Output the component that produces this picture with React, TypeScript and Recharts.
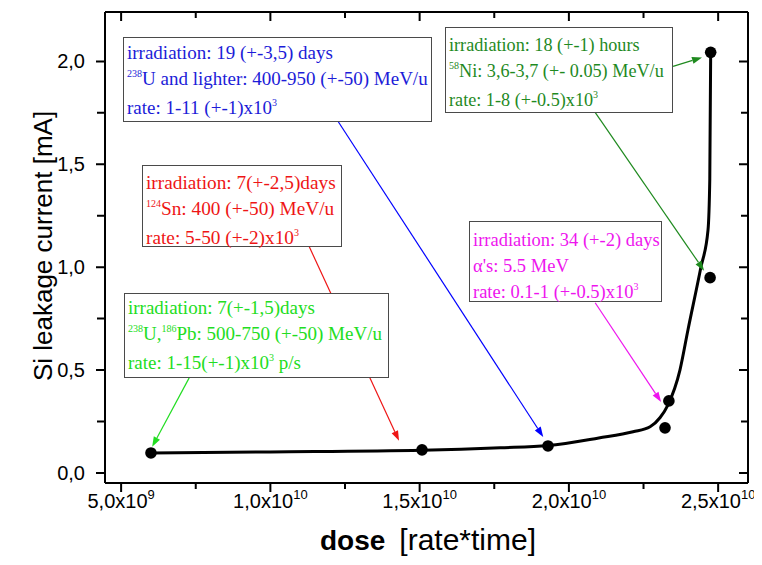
import React from "react";
import { ComposedChart, Line, Scatter, XAxis, YAxis, ReferenceLine } from "recharts";

// measured points
const measuredDose = [6.0e9, 1.508e10, 1.93e10, 2.322e10, 2.335e10, 2.473e10, 2.475e10];
const measuredCurrent = [0.097, 0.112, 0.131, 0.219, 0.35, 0.949, 2.044];

// fitted curve
const fitDose = [
  6.0e9, 1.0e10, 1.508e10, 1.77e10, 1.93e10, 2.1e10, 2.215e10, 2.272e10, 2.305e10,
  2.332e10, 2.372e10, 2.399e10, 2.442e10, 2.466e10, 2.472e10, 2.475e10,
];
const fitCurrent = [
  0.097, 0.102, 0.11, 0.122, 0.133, 0.17, 0.2, 0.224, 0.268, 0.331, 0.5, 0.696, 0.998,
  1.18, 1.43, 2.044,
];

const xMajorTicks = [5e9, 1e10, 1.5e10, 2e10, 2.5e10];
const xMinorTicks = [7.5e9, 1.25e10, 1.75e10, 2.25e10];
const xTickMantissa = ["5,0", "1,0", "1,5", "2,0", "2,5"];
const xTickExponent = ["9", "10", "10", "10", "10"];
const yMajorTicks = [0, 0.5, 1, 1.5, 2];
const yMinorTicks = [0.25, 0.75, 1.25, 1.75];
const yTickLabels = ["0,0", "0,5", "1,0", "1,5", "2,0"];

const BLUE = "#1c1cd8";
const DARK_GREEN = "#1f8a1f";
const RED = "#ee1515";
const LIGHT_GREEN = "#22dd22";
const MAGENTA = "#ee15ee";

// arrow start (box edge) and tip (data point), in data units
const arrowFrom = [
  [7.28e9, 0.462],
  [1.13e10, 1.1],
  [1.227e10, 1.708],
  [2.088e10, 0.827],
  [2.088e10, 1.752],
  [2.349e10, 1.976],
];
const arrowTo = [
  [6.04e9, 0.127],
  [1.431e10, 0.156],
  [1.914e10, 0.175],
  [2.309e10, 0.345],
  [2.453e10, 0.983],
  [2.446e10, 2.019],
];
const arrowColor = [LIGHT_GREEN, RED, "#0000ff", MAGENTA, DARK_GREEN, DARK_GREEN];

const measured = measuredDose.map((x, i) => ({ x, y: measuredCurrent[i] }));
const fit = fitDose.map((x, i) => ({ x, y: fitCurrent[i] }));

const X_DOMAIN: [number, number] = [4.46e9, 2.6e10];
const Y_DOMAIN: [number, number] = [-0.049, 2.24];

const W = 754;
const H = 549;
const M = { top: 3, right: 13, left: 0, bottom: 0 };
const Y_AXIS_W = 97;
const X_AXIS_H = 74;
// plot frame in svg pixels (same box recharts lays out from the sizes above)
const plot = {
  left: M.left + Y_AXIS_W,
  right: W - M.right - 1,
  top: M.top + 1,
  bottom: H - M.bottom - X_AXIS_H,
};
const px = (v: number) =>
  plot.left + ((v - X_DOMAIN[0]) / (X_DOMAIN[1] - X_DOMAIN[0])) * (plot.right - plot.left);
const py = (v: number) =>
  plot.bottom - ((v - Y_DOMAIN[0]) / (Y_DOMAIN[1] - Y_DOMAIN[0])) * (plot.bottom - plot.top);

const SANS = "'Liberation Sans', Arial, sans-serif";
const SERIF = "'Liberation Serif', 'Times New Roman', serif";
const FRAME = { stroke: "#000", strokeWidth: 2 };

function BottomLabel(props: any) {
  const { x, y, payload } = props;
  const i = xMajorTicks.indexOf(payload.value);
  if (i < 0) return null;
  return (
    <text x={x} y={y + 25} textAnchor="middle" fontSize={20} fontFamily={SANS} fill="#000">
      <tspan>{xTickMantissa[i]}x10</tspan>
      <tspan dy={-9} fontSize={13}>
        {xTickExponent[i]}
      </tspan>
    </text>
  );
}

function LeftLabel(props: any) {
  const { x, y, payload } = props;
  const i = yMajorTicks.indexOf(payload.value);
  if (i < 0) return null;
  return (
    <text x={x - 20} y={y + 7} textAnchor="end" fontSize={20} fontFamily={SANS} fill="#000">
      {yTickLabels[i]}
    </text>
  );
}

function arrowShape(color: string) {
  return (p: any) => {
    const { x1, y1, x2, y2 } = p;
    const a = Math.atan2(y2 - y1, x2 - x1);
    const L = 10;
    const hw = 3.5;
    const bx = x2 - L * Math.cos(a);
    const by = y2 - L * Math.sin(a);
    const pts = `${x2},${y2} ${bx + hw * Math.sin(a)},${by - hw * Math.cos(a)} ${bx - hw * Math.sin(a)},${by + hw * Math.cos(a)}`;
    return (
      <g>
        <line x1={x1} y1={y1} x2={bx} y2={by} stroke={color} strokeWidth={1.2} />
        <polygon points={pts} fill={color} />
      </g>
    );
  };
}

function Dot(p: any) {
  return <circle cx={p.cx} cy={p.cy} r={5.8} fill="#000" />;
}

// Origin-style frame ticks: outward on bottom/left, inward on top/right
function FrameTicks() {
  const segs: string[] = [];
  [...xMajorTicks, ...xMinorTicks].forEach((v) => {
    const major = xMajorTicks.includes(v);
    const x = px(v);
    segs.push(`M${x},${plot.bottom}L${x},${plot.bottom + (major ? 9 : 6)}`);
    segs.push(`M${x},${plot.top}L${x},${plot.top + (major ? 9 : 6)}`);
  });
  [...yMajorTicks, ...yMinorTicks].forEach((v) => {
    const major = yMajorTicks.includes(v);
    const y = py(v);
    segs.push(`M${plot.left},${y}L${plot.left - (major ? 9 : 8)},${y}`);
    segs.push(`M${plot.right},${y}L${plot.right - (major ? 9 : 7)},${y}`);
  });
  return <path d={segs.join("")} stroke="#000" strokeWidth={2} fill="none" />;
}

function NoteBox({ left, top, width, height, padTop, color, size, children }: any) {
  return (
    <div
      style={{
        position: "absolute",
        left,
        top,
        width,
        height,
        boxSizing: "border-box",
        border: "1.5px solid #4a4a4a",
        background: "#fff",
        color,
        fontFamily: SERIF,
        fontSize: size,
        lineHeight: "26px",
        paddingTop: padTop,
        paddingLeft: 3,
        whiteSpace: "nowrap",
      }}
    >
      {children}
    </div>
  );
}

function Sup({ children }: any) {
  return (
    <span style={{ fontSize: 10, position: "relative", top: -8, verticalAlign: "baseline" }}>
      {children}
    </span>
  );
}

export default function App() {
  return (
    <div style={{ position: "relative", width: W, height: H }}>
      <ComposedChart width={W} height={H} margin={M}>
        <XAxis
          xAxisId={0}
          dataKey="x"
          type="number"
          domain={X_DOMAIN}
          allowDataOverflow
          ticks={xMajorTicks}
          interval={0}
          height={X_AXIS_H}
          tickSize={0}
          tickMargin={0}
          tickLine={false}
          tick={<BottomLabel />}
          axisLine={FRAME}
        />
        <XAxis
          xAxisId="top"
          orientation="top"
          dataKey="x"
          type="number"
          domain={X_DOMAIN}
          allowDataOverflow
          height={1}
          tickLine={false}
          tick={false}
          axisLine={FRAME}
        />
        <YAxis
          yAxisId={0}
          type="number"
          domain={Y_DOMAIN}
          allowDataOverflow
          ticks={yMajorTicks}
          interval={0}
          width={Y_AXIS_W}
          tickSize={0}
          tickMargin={0}
          tickLine={false}
          tick={<LeftLabel />}
          axisLine={FRAME}
        />
        <YAxis
          yAxisId="right"
          orientation="right"
          type="number"
          domain={Y_DOMAIN}
          allowDataOverflow
          width={1}
          tickLine={false}
          tick={false}
          axisLine={FRAME}
        />
        <Line
          data={fit}
          dataKey="y"
          type="monotone"
          stroke="#000"
          strokeWidth={3}
          dot={false}
          activeDot={false}
          isAnimationActive={false}
        />
        <Scatter data={measured} dataKey="y" shape={<Dot />} isAnimationActive={false} />
        {arrowFrom.map((f, i) => (
          <ReferenceLine
            key={i}
            segment={[
              { x: f[0], y: f[1] },
              { x: arrowTo[i][0], y: arrowTo[i][1] },
            ]}
            shape={arrowShape(arrowColor[i])}
          />
        ))}
      </ComposedChart>

      <svg
        width={W}
        height={H}
        style={{ position: "absolute", left: 0, top: 0, pointerEvents: "none" }}
      >
        <FrameTicks />
        <text
          transform="translate(44,238) rotate(-90)"
          textAnchor="middle"
          fontSize={26}
          fontFamily={SANS}
          fill="#000"
        >
          Si leakage current [mA]
        </text>
        <text x={420} y={542} textAnchor="middle" fontFamily={SANS} fill="#000">
          <tspan fontWeight="bold" fontSize={28}>
            dose
          </tspan>
          <tspan dx={14} fontSize={30}>
            [rate*time]
          </tspan>
        </text>
      </svg>

      <NoteBox left={115} top={29} width={309} height={85} padTop={2} size={19} color={BLUE}>
        <div>irradiation: 19 (+-3,5) days</div>
        <div>
          <Sup>238</Sup>U and lighter: 400-950 (+-50) MeV/u
        </div>
        <div>
          rate: 1-11 (+-1)x10<Sup>3</Sup>
        </div>
      </NoteBox>

      <NoteBox left={437} top={19} width={228} height={86} padTop={4} size={18.2} color={DARK_GREEN}>
        <div>irradiation: 18 (+-1) hours</div>
        <div>
          <Sup>58</Sup>Ni: 3,6-3,7 (+- 0.05) MeV/u
        </div>
        <div>
          rate: 1-8 (+-0.5)x10<Sup>3</Sup>
        </div>
      </NoteBox>

      <NoteBox left={134} top={157} width={200} height={82} padTop={4} size={19.3} color={RED}>
        <div>irradiation: 7(+-2,5)days</div>
        <div>
          <Sup>124</Sup>Sn: 400 (+-50) MeV/u
        </div>
        <div>
          rate: 5-50 (+-2)x10<Sup>3</Sup>
        </div>
      </NoteBox>

      <NoteBox left={116} top={285} width={265} height={85} padTop={1} size={19} color={LIGHT_GREEN}>
        <div>irradiation: 7(+-1,5)days</div>
        <div>
          <Sup>238</Sup>U,<Sup>186</Sup>Pb: 500-750 (+-50) MeV/u
        </div>
        <div>
          rate: 1-15(+-1)x10<Sup>3</Sup> p/s
        </div>
      </NoteBox>

      <NoteBox left={461} top={213} width={193} height={81} padTop={5} size={18.5} color={MAGENTA}>
        <div>irradiation: 34 (+-2) days</div>
        <div>α's: 5.5 MeV</div>
        <div>
          rate: 0.1-1 (+-0.5)x10<Sup>3</Sup>
        </div>
      </NoteBox>
    </div>
  );
}
